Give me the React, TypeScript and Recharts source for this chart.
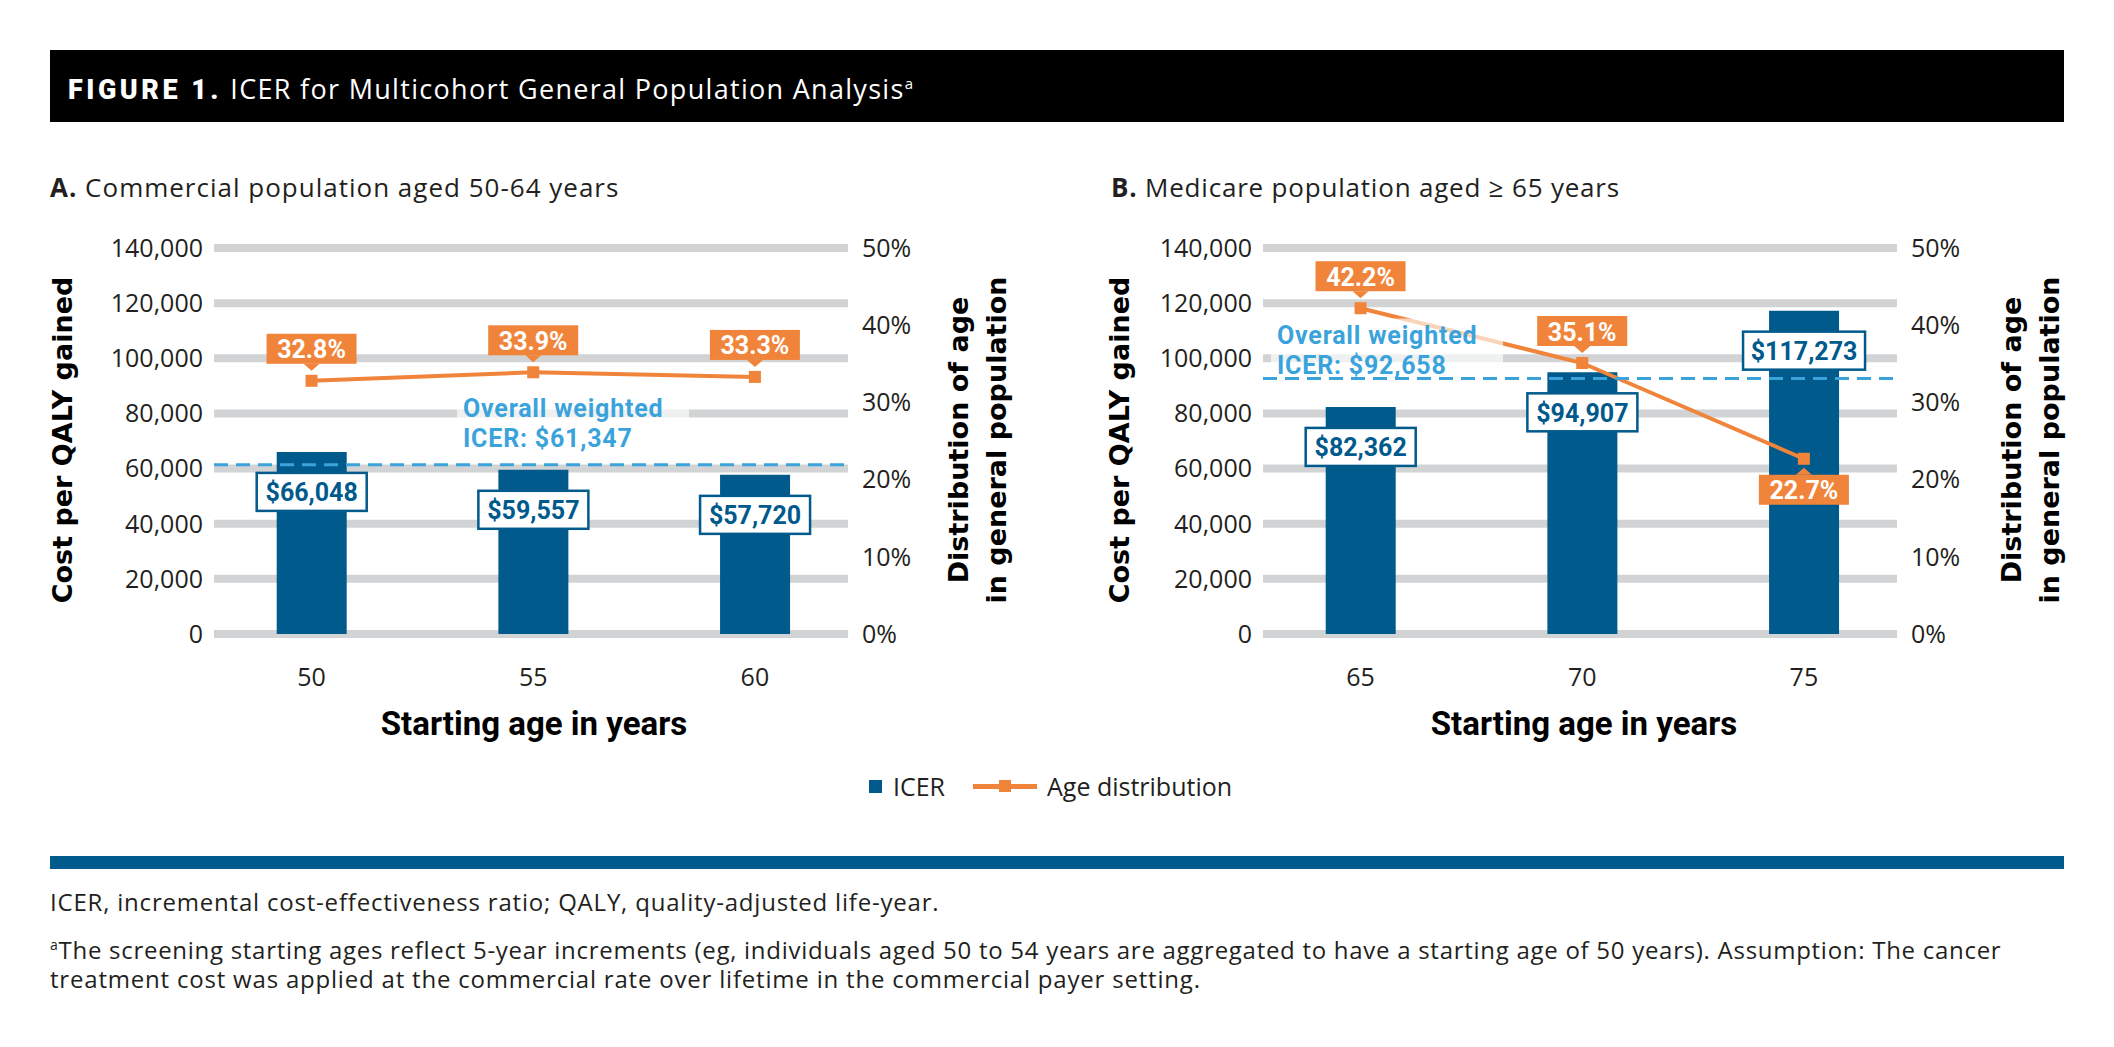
import React from "react";
import {
  Bar,
  CartesianGrid,
  ComposedChart,
  LabelList,
  Line,
  ReferenceLine,
  XAxis,
  YAxis,
} from "recharts";

// panel A: commercial population aged 50-64
const AGES_A = [50, 55, 60];
const ICER_A = [66048, 59557, 57720];
const DIST_A = [32.8, 33.9, 33.3];
const WEIGHTED_A = 61347;

// panel B: medicare population aged >= 65
const AGES_B = [65, 70, 75];
const ICER_B = [82362, 94907, 117273];
const DIST_B = [42.2, 35.1, 22.7];
const WEIGHTED_B = 92658;

const ICER_TICKS = [0, 20000, 40000, 60000, 80000, 100000, 120000, 140000];
const PCT_TICKS = [0, 10, 20, 30, 40, 50];

const BLUE = "#005a8c";
const ORANGE = "#f0843a";
const LIGHT = "#3ba3dc";
const GRID = "#d1d3d4";
const INK = "#231f20";
const FONT = "Roboto, 'Liberation Sans', sans-serif";
const TEXT = "'Open Sans', Roboto, sans-serif";
const WIDE = "'DejaVu Sans', Verdana, sans-serif";

const ICER_MAX = 140000;
const PCT_MAX = 50;

const money = (v: number) => `$${v.toLocaleString("en-US")}`;

function IcerLabel(props: any) {
  const vb = props.viewBox || props;
  const x = vb.x ?? props.x;
  const y = vb.y ?? props.y;
  const w = vb.width ?? props.width ?? 0;
  const text = money(Number(props.value));
  const cx = x + w / 2;
  const cy = y + 40;
  const bw = text.length * 12 + 26;
  return (
    <g>
      <rect x={cx - bw / 2} y={cy - 19} width={bw} height={38} fill="#fff" stroke={BLUE} strokeWidth={2.5} />
      <text
        x={cx}
        y={cy + 1}
        textAnchor="middle"
        dominantBaseline="central"
        fill={BLUE}
        fontFamily={FONT}
        fontWeight={700}
        fontSize={25}
      >
        {text}
      </text>
    </g>
  );
}

function DistLabel(props: any) {
  const vb = props.viewBox || props;
  const x = vb.x ?? props.x;
  const y = vb.y ?? props.y;
  const below = props.below as boolean;
  const text = `${props.value}%`;
  const bw = 90;
  const bh = 30;
  const cy = below ? y + 31 : y - 32;
  const edge = below ? cy - bh / 2 : cy + bh / 2;
  const tip = below ? edge - 7 : edge + 7;
  return (
    <g>
      <rect x={x - bw / 2} y={cy - bh / 2} width={bw} height={bh} fill={ORANGE} />
      <polygon points={`${x - 8},${edge} ${x + 8},${edge} ${x},${tip}`} fill={ORANGE} />
      <text
        x={x}
        y={cy + 1}
        textAnchor="middle"
        dominantBaseline="central"
        fill="#fff"
        fontFamily={FONT}
        fontWeight={700}
        fontSize={25}
      >
        {text}
      </text>
    </g>
  );
}

function SquareDot(props: any) {
  const { cx, cy, index } = props;
  return <rect key={`dot-${index}`} x={cx - 6} y={cy - 6} width={12} height={12} fill={ORANGE} />;
}

function WeightedNote(props: any) {
  const { viewBox, dx, lift, value } = props;
  if (!viewBox) return null;
  const x = viewBox.x + dx;
  const y2 = viewBox.y - lift;
  const y1 = y2 - 30;
  const style = { letterSpacing: 0.8 };
  return (
    <g>
      <rect x={x - 6} y={y1 - 17} width={232} height={58} fill="#fff" fillOpacity={0.65} />
      <text x={x} y={y1} dominantBaseline="central" fill={LIGHT} fontFamily={FONT} fontWeight={700} fontSize={25} style={style}>
        Overall weighted
      </text>
      <text x={x} y={y2} dominantBaseline="central" fill={LIGHT} fontFamily={FONT} fontWeight={700} fontSize={25} style={style}>
        {`ICER: ${money(value)}`}
      </text>
    </g>
  );
}

function Panel({
  ages,
  icer,
  dist,
  weighted,
  left,
  noteX,
  noteLift,
}: {
  ages: number[];
  icer: number[];
  dist: number[];
  weighted: number;
  left: number;
  noteX: number;
  noteLift: number;
}) {
  const data = ages.map((age, i) => ({ age, icer: icer[i], dist: dist[i] }));
  const tick = { fill: INK, fontSize: 25, fontFamily: TEXT };
  return (
    <div style={{ position: "absolute", left, top: 160 }}>
      <ComposedChart width={1052} height={574} data={data} margin={{ top: 88, right: 0, bottom: 0, left: 0 }}>
        <CartesianGrid yAxisId="icer" vertical={false} stroke={GRID} strokeWidth={8} />
        <XAxis
          dataKey="age"
          type="number"
          domain={[ages[0] - 2.2, ages[ages.length - 1] + 2.1]}
          ticks={ages}
          axisLine={false}
          tickLine={false}
          height={100}
          tickMargin={28}
          tick={tick}
        />
        <YAxis
          yAxisId="icer"
          domain={[0, ICER_MAX]}
          ticks={ICER_TICKS}
          width={214}
          axisLine={false}
          tickLine={false}
          tickMargin={5}
          tick={tick}
          tickFormatter={(v) => Number(v).toLocaleString("en-US")}
        />
        <YAxis
          yAxisId="pct"
          orientation="right"
          domain={[0, PCT_MAX]}
          ticks={PCT_TICKS}
          width={204}
          axisLine={false}
          tickLine={false}
          tickMargin={8}
          tick={tick}
          tickFormatter={(v) => `${v}%`}
        />
        <Bar yAxisId="icer" dataKey="icer" fill={BLUE} barSize={70} isAnimationActive={false}>
          <LabelList dataKey="icer" content={IcerLabel} />
        </Bar>
        <Line
          yAxisId="pct"
          dataKey="dist"
          stroke={ORANGE}
          strokeWidth={4}
          dot={SquareDot}
          activeDot={false}
          isAnimationActive={false}
        >
          <LabelList
            dataKey="dist"
            content={(p: any) => (
              <DistLabel {...p} below={dist[p.index] * (ICER_MAX / PCT_MAX) < icer[p.index]} />
            )}
          />
        </Line>
        <ReferenceLine
          yAxisId="icer"
          y={weighted}
          stroke={LIGHT}
          strokeWidth={3}
          strokeDasharray="14 8"
          label={<WeightedNote value={weighted} dx={noteX} lift={noteLift} />}
        />
      </ComposedChart>
    </div>
  );
}

const abs = (x: number, y: number, extra: React.CSSProperties = {}): React.CSSProperties => ({
  position: "absolute",
  left: x,
  top: y,
  transform: "translateY(-50%)",
  whiteSpace: "nowrap",
  ...extra,
});

function VTitle({ x, y, lines }: { x: number; y: number; lines: string[] }) {
  return (
    <div
      style={{
        position: "absolute",
        left: x,
        top: y,
        transform: "translate(-50%, -50%) rotate(-90deg)",
        whiteSpace: "nowrap",
        textAlign: "center",
        fontFamily: WIDE,
        fontWeight: 700,
        fontSize: 27,
        lineHeight: "38px",
        color: "#000",
      }}
    >
      {lines.map((l) => (
        <div key={l}>{l}</div>
      ))}
    </div>
  );
}

export default function App() {
  return (
    <div
      style={{
        position: "absolute",
        left: 0,
        top: 0,
        width: 2114,
        height: 1047,
        background: "#fff",
        fontFamily: TEXT,
        color: INK,
        overflow: "hidden",
      }}
    >
      {/* header */}
      <div style={{ position: "absolute", left: 50, top: 50, width: 2014, height: 72, background: "#000" }} />
      <div style={abs(68, 88, { color: "#fff", fontSize: 27, letterSpacing: 1.3 })}>
        <span style={{ fontFamily: FONT, fontWeight: 900, letterSpacing: 3.5 }}>FIGURE 1.</span> ICER for
        Multicohort General Population Analysis
        <sup style={{ fontSize: 15 }}>a</sup>
      </div>

      {/* subtitles */}
      <div style={abs(50, 187, { fontSize: 26, letterSpacing: 1 })}>
        <b>A.</b> Commercial population aged 50-64 years
      </div>
      <div style={abs(1111, 187, { fontSize: 26, letterSpacing: 0.8 })}>
        <b>B.</b> Medicare population aged ≥ 65 years
      </div>

      <Panel ages={AGES_A} icer={ICER_A} dist={DIST_A} weighted={WEIGHTED_A} left={0} noteX={249} noteLift={26} />
      <Panel ages={AGES_B} icer={ICER_B} dist={DIST_B} weighted={WEIGHTED_B} left={1049} noteX={14} noteLift={13} />

      {/* axis titles */}
      <VTitle x={63} y={440} lines={["Cost per QALY gained"]} />
      <VTitle x={978} y={440} lines={["Distribution of age", "in general population"]} />
      <VTitle x={1120} y={440} lines={["Cost per QALY gained"]} />
      <VTitle x={2031} y={440} lines={["Distribution of age", "in general population"]} />
      <div style={abs(534, 723, { transform: "translate(-50%, -50%)", fontFamily: FONT, fontWeight: 700, fontSize: 33, color: "#000" })}>
        Starting age in years
      </div>
      <div style={abs(1584, 723, { transform: "translate(-50%, -50%)", fontFamily: FONT, fontWeight: 700, fontSize: 33, color: "#000" })}>
        Starting age in years
      </div>

      {/* legend */}
      <div style={{ position: "absolute", left: 869, top: 780, width: 13, height: 13, background: BLUE }} />
      <div style={abs(893, 786, { fontSize: 25 })}>ICER</div>
      <div style={{ position: "absolute", left: 973, top: 784, width: 64, height: 5, background: ORANGE }} />
      <div style={{ position: "absolute", left: 999, top: 780, width: 12, height: 12, background: ORANGE }} />
      <div style={abs(1047, 786, { fontSize: 25 })}>Age distribution</div>

      {/* footer */}
      <div style={{ position: "absolute", left: 50, top: 856, width: 2014, height: 13, background: BLUE }} />
      <div style={abs(50, 901, { fontSize: 24, letterSpacing: 0.8 })}>
        ICER, incremental cost-effectiveness ratio; QALY, quality-adjusted life-year.
      </div>
      <div style={abs(50, 949, { fontSize: 24, letterSpacing: 0.72 })}>
        <sup style={{ fontSize: 14 }}>a</sup>The screening starting ages reflect 5-year increments (eg, individuals aged
        50 to 54 years are aggregated to have a starting age of 50 years). Assumption: The cancer
      </div>
      <div style={abs(50, 978, { fontSize: 24, letterSpacing: 0.8 })}>
        treatment cost was applied at the commercial rate over lifetime in the commercial payer setting.
      </div>
    </div>
  );
}
